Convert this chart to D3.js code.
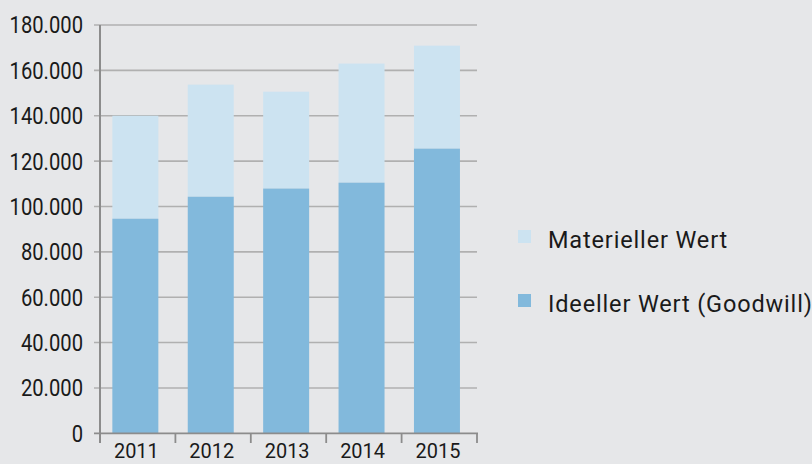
<!DOCTYPE html>
<html><head><meta charset="utf-8">
<script src="https://cdn.jsdelivr.net/npm/d3@7/dist/d3.min.js"></script>
<style>
html,body{margin:0;padding:0;background:#e6e7e9;}
svg{display:block;font-family:Roboto,"DejaVu Sans",sans-serif;}
</style></head>
<body><svg id="c" width="812" height="464"></svg>
<script>
const years = ["2011","2012","2013","2014","2015"];
const ideeller = [94600, 104300, 107900, 110500, 125500];
const materiellTotal = [140000, 153700, 150600, 163000, 170900];
const materieller = materiellTotal.map((t,i)=>t-ideeller[i]);
const yTicks = [0,20000,40000,60000,80000,100000,120000,140000,160000,180000];
const seriesNames = ["Materieller Wert","Ideeller Wert (Goodwill)"];
const colors = {light:"#cce3f1", dark:"#82b9dc"};

const svg = d3.select("#c");
const x0 = 100, x1 = 477, y0 = 433.3, y1 = 25;
const x = d3.scaleBand().domain(years).range([x0,x1]).paddingInner(0.39).paddingOuter(0.195).align(0.42);
const y = d3.scaleLinear().domain([0,180000]).range([y0,y1]);
const fmt = d => d3.format(",")(d).replace(/,/g,".");

// gridlines
svg.append("g").selectAll("line").data(yTicks.filter(d=>d>0)).join("line")
  .attr("x1",94).attr("x2",x1).attr("y1",d=>y(d)).attr("y2",d=>y(d))
  .attr("stroke","#b0b0b0").attr("stroke-width",1.6);

// bars
const stack = years.map((yr,i)=>({yr, a:ideeller[i], b:materieller[i]}));
const g = svg.append("g");
g.selectAll("rect.l").data(stack).join("rect").attr("class","l")
  .attr("x",d=>x(d.yr)).attr("width",x.bandwidth())
  .attr("y",d=>y(d.a+d.b)).attr("height",d=>y(d.a)-y(d.a+d.b)).attr("fill",colors.light);
g.selectAll("rect.d").data(stack).join("rect").attr("class","d")
  .attr("x",d=>x(d.yr)).attr("width",x.bandwidth())
  .attr("y",d=>y(d.a)).attr("height",d=>y(0)-y(d.a)).attr("fill",colors.dark);

// axes
const axc = "#8c8c8c";
svg.append("line").attr("x1",x0).attr("x2",x0).attr("y1",y1).attr("y2",443).attr("stroke",axc).attr("stroke-width",2);
svg.append("line").attr("x1",94).attr("x2",x1+1).attr("y1",y0).attr("y2",y0).attr("stroke",axc).attr("stroke-width",1.8);
svg.append("g").selectAll("line").data(d3.range(years.length+1)).join("line")
  .attr("x1",i=>x0+i*x.step()).attr("x2",i=>x0+i*x.step()).attr("y1",y0).attr("y2",443)
  .attr("stroke",axc).attr("stroke-width",1.8);

// y labels (condensed look)
svg.append("g").selectAll("text").data(yTicks).join("text")
  .attr("transform",d=>`translate(83,${y(d)}) scale(0.86,1)`)
  .attr("dy","0.36em").attr("text-anchor","end")
  .attr("font-size",23.5).attr("fill","#1a1a1a").text(fmt);

// x labels
svg.append("g").selectAll("text").data(years).join("text")
  .attr("transform",d=>`translate(${x(d)+x.bandwidth()/2+1},458) scale(0.95,1)`)
  .attr("text-anchor","middle")
  .attr("font-size",21).attr("fill","#1a1a1a").text(d=>d);

// legend
const leg = svg.append("g").selectAll("g").data(seriesNames).join("g")
  .attr("transform",(d,i)=>`translate(518,${230+i*64})`);
leg.append("rect").attr("width",13).attr("height",13).attr("fill",(d,i)=>i?colors.dark:colors.light);
leg.append("text").attr("x",30).attr("y",18.3).attr("font-size",23.5).attr("letter-spacing",0.85)
  .attr("fill","#1a1a1a").text(d=>d);
</script></body></html>
